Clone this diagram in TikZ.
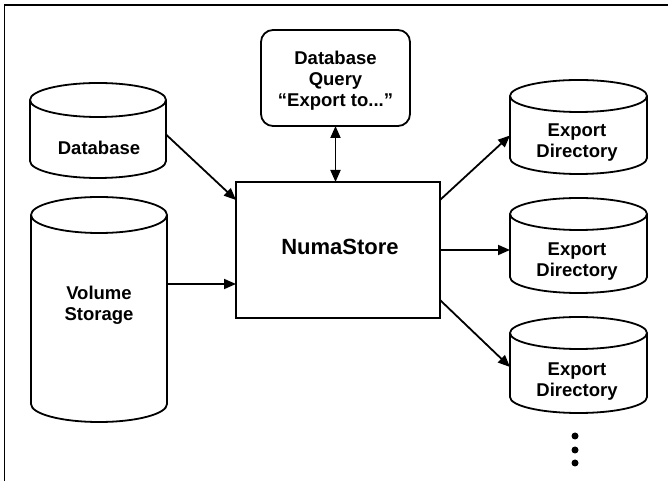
\documentclass[tikz,border=0pt]{standalone}
\usepackage{fontspec}
\setmainfont{Liberation Sans}
\usetikzlibrary{arrows.meta,calc}
% L R T B r  (page pixels, y measured from the top)
\newcommand\drawcyl[5]{%
  \pgfmathsetmacro\cylrx{(#2-#1)/2}%
  \draw[cylbody] (#1,{481-#3-#5}) -- (#1,{481-#4+#5})
     arc[start angle=180,end angle=360,x radius=\cylrx pt,y radius=#5pt]
     -- (#2,{481-#3-#5})
     arc[start angle=0,end angle=180,x radius=\cylrx pt,y radius=#5pt] -- cycle;
  \draw[cylbody] (#1,{481-#3-#5})
     arc[start angle=180,end angle=360,x radius=\cylrx pt,y radius=#5pt];
}
\begin{document}
\begin{tikzpicture}[x=1pt,y=1pt,
  lw/.style={line width=1.8pt},
  cylbody/.style={lw,fill=white,line join=round},
  area/.style={draw=none,inner sep=0pt,outer sep=0pt},
  txt/.style={font=\fontsize{18.5}{21}\selectfont\bfseries,align=center,inner sep=0pt},
  bigtxt/.style={font=\fontsize{22}{26}\selectfont\bfseries,align=center,inner sep=0pt},
  qbox/.style={lw,draw,rounded corners=12pt,inner sep=0pt,outer sep=0pt},
  sbox/.style={lw,draw,inner sep=0pt,outer sep=0pt},
  arr/.style={lw,-{Triangle[length=12pt,width=10pt]}},
  arrtwo/.style={lw,{Triangle[length=12pt,width=10pt]}-{Triangle[length=12pt,width=10pt]}},
  dotn/.style={circle,fill=black,inner sep=0pt,minimum size=7pt}]
\useasboundingbox (0,0) rectangle (668,481);
% frame
\draw[line width=1.6pt] (4.5,0) -- (4.5,476) -- (668,476);

% cylinders
\drawcyl{30}{166}{83}{178}{17}
\drawcyl{31}{167}{197}{422}{18}
\drawcyl{510}{647}{80}{174}{16}
\drawcyl{510}{647}{198}{293}{16}
\drawcyl{510}{647}{317}{413}{16}

% areas of the cylinders
\node[area,minimum width=136pt,minimum height=95pt] (db) at (98,350.5) {};
\node[area,minimum width=136pt,minimum height=225pt] (vol) at (99,171.5) {};
\node[area,minimum width=137pt,minimum height=94pt] (e1) at (578.5,354) {};
\node[area,minimum width=137pt,minimum height=95pt] (e2) at (578.5,235.5) {};
\node[area,minimum width=137pt,minimum height=96pt] (e3) at (578.5,116) {};

% texts of the cylinders
\node[txt] (dbt) at (99,333) {Database};
\node[txt] (volt) at (99,176) {Volume\\Storage};
\node[txt] (e1t) at (577,338.5) {Export\\Directory};
\node[txt] (e2t) at (577,219) {Export\\Directory};
\node[txt] (e3t) at (577,99) {Export\\Directory};

% query box
\node[qbox,minimum width=149pt,minimum height=96pt] (q) at (335.5,403) {};
\node[txt] (qt) at (335.5,400) {Database\\Query\\“Export to...”};

% NumaStore
\node[sbox,minimum width=204pt,minimum height=136pt] (numa) at (338,231) {};
\node[bigtxt] (numat) at (340,234) {NumaStore};

% dots
\node[dotn] (d1) at (575,45) {};
\node[dotn] (d2) at (575,31) {};
\node[dotn] (d3) at (575,18) {};

% connectors
\draw[arr] ([yshift=-4pt]db.east) -- ([yshift=-18pt]numa.north west);
\coordinate (v2n) at ([yshift=-34pt]numa.west);
\draw[arr] (vol.east |- v2n) -- (v2n);
\draw[arrtwo] (q.south) -- (q.south |- numa.north);
\draw[arr] ([yshift=-18pt]numa.north east) -- ([yshift=-8.5pt]e1.west);
\draw[arr] (numa.east) -- (numa.east -| e2.west);
\draw[arr] ([yshift=18pt]numa.south east) -- ([yshift=-2pt]e3.west);
\end{tikzpicture}
\end{document}
